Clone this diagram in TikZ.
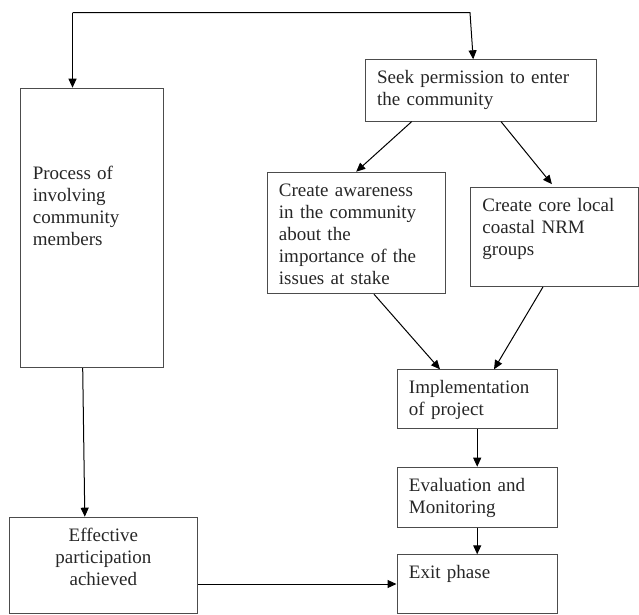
\documentclass[tikz,border=0pt]{standalone}
\usepackage{fontspec}
\setmainfont{Liberation Serif}
\usetikzlibrary{arrows.meta}

\begin{document}
\begin{tikzpicture}[x=1pt, y=-1pt,
    box/.style={draw=black!70, line width=0.9pt, anchor=north west, align=left,
      inner xsep=12pt, inner ysep=11pt, text height=13pt,
      font=\fontsize{19}{22}\selectfont, text=black!85},
    flow/.style={line width=1pt, -{Triangle[length=9pt, width=8pt]}}]
      \useasboundingbox (0,0) rectangle (639,614);
      \node[box, text width=118.6pt, text height=80.3pt, text depth=177.3pt] (proc) at (20.4, 87.7) {Process of\\involving\\community\\members};
      \node[box, text width=207.3pt, text depth=26.4pt] (seek) at (364.7, 59.3) {Seek permission to enter\\the community};
      \node[box, text width=154.5pt, text depth=86.6pt] (aware) at (266.5, 171.7) {Create awareness\\in the community\\about the\\importance of the\\issues at stake};
      \node[box, text width=144pt, text depth=63.7pt] (core) at (470, 187.3) {Create core local\\coastal NRM\\groups};
      \node[box, text width=136.5pt, text depth=24pt] (impl) at (396.5, 369.3) {Implementation\\of project};
      \node[box, text width=136.5pt, text depth=25pt] (eval) at (396.5, 466.7) {Evaluation and\\Monitoring};
      \node[box, text width=136.5pt, text depth=23.5pt] (exit) at (396.5, 554.3) {Exit phase};
      \node[box, align=center, text width=164.6pt, text depth=61pt] (eff) at (8.6, 516.7) {Effective\\participation\\achieved};
      \coordinate (tl) at (72.5, 12.7);
      \coordinate (tr) at (470, 12.7);
      \draw[flow] (tl) -- ([xshift=52.1pt]proc.north west);
      \draw[flow] (tl) -- (tr) -- ([xshift=-7.6pt]seek.north);
      \draw[flow] ([xshift=47pt]seek.south west) -- (aware.north);
      \draw[flow, shorten >=4pt] ([xshift=136.3pt]seek.south west) -- (core.north);
      \draw[flow] ([xshift=107.5pt]aware.south west) -- ([xshift=43.5pt]impl.north west);
      \draw[flow] ([xshift=73pt]core.south west) -- ([xshift=97.5pt]impl.north west);
      \draw[flow] (impl) -- (eval);
      \draw[flow] (eval) -- (exit);
      \draw[flow] ([xshift=62.3pt]proc.south west) -- ([xshift=76.2pt]eff.north west);
      \draw[flow] (eff.east |- exit.west) -- (exit.west);
    \end{tikzpicture}
\end{document}
